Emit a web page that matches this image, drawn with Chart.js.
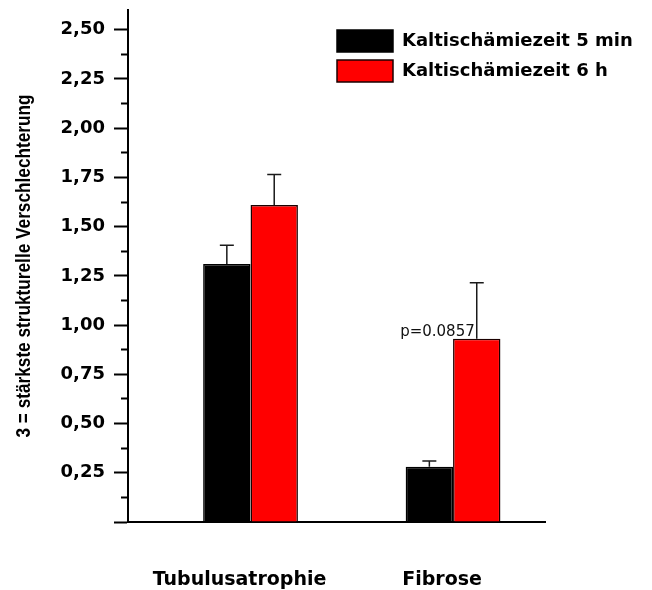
<!DOCTYPE html>
<html lang="de">
<head>
<meta charset="utf-8">
<title>Kaltischämiezeit – strukturelle Verschlechterung</title>
<script src="https://cdn.jsdelivr.net/npm/chart.js@4/dist/chart.umd.min.js"></script>
<style>
  html, body { margin: 0; padding: 0; background: #ffffff; }
  #wrap { width: 652px; height: 590px; }
</style>
</head>
<body>
<div id="wrap"><canvas id="chart" width="652" height="590"></canvas></div>
<script>
// Befunde je Kategorie (Mittelwert und Fehler nach oben)
const categories = ['Tubulusatrophie', 'Fibrose'];
const seriesNames = ['Kaltischämiezeit 5 min', 'Kaltischämiezeit 6 h'];
const values5min = [1.31, 0.28];
const errors5min = [0.095, 0.03];
const values6h = [1.61, 0.93];
const errors6h = [0.155, 0.285];
const notes6h = ['', 'p=0.0857'];
const yAxisTitle = '3 = stärkste strukturelle Verschlechterung';
const yMax = 2.6;
const yMajorStep = 0.25;
const yMinorStep = 0.125;

const BOLD_FONT = "'DejaVu Sans', 'Liberation Sans', sans-serif";
const TITLE_FONT = "bold 21px 'Liberation Sans', Arial, sans-serif";

const isMajor = v => Math.abs(v / yMajorStep - Math.round(v / yMajorStep)) < 1e-6;
const formatTick = v => v.toFixed(2).replace('.', ',');

const toPoints = vals => vals.map((v, i) => ({ x: i, y: v }));

// Fehlerbalken und Hinweistexte über den Balken
const errorBars = {
  id: 'errorBars',
  afterDatasetsDraw(chart) {
    const { ctx } = chart;
    const yScale = chart.scales.y;
    chart.data.datasets.forEach((ds, di) => {
      const meta = chart.getDatasetMeta(di);
      meta.data.forEach((bar, i) => {
        const err = ds.errors ? ds.errors[i] : 0;
        const val = ds.data[i].y;
        const yTop = yScale.getPixelForValue(val + err);
        ctx.save();
        ctx.strokeStyle = '#1a1a1a';
        ctx.lineWidth = 1.5;
        ctx.beginPath();
        ctx.moveTo(bar.x, bar.y);
        ctx.lineTo(bar.x, yTop);
        ctx.moveTo(bar.x - 7, yTop);
        ctx.lineTo(bar.x + 7, yTop);
        ctx.stroke();
        const note = ds.notes ? ds.notes[i] : '';
        if (note) {
          ctx.fillStyle = '#111111';
          ctx.font = "15px " + BOLD_FONT;
          ctx.textAlign = 'right';
          ctx.textBaseline = 'alphabetic';
          ctx.fillText(note, bar.x - 2, bar.y - 3);
        }
        ctx.restore();
      });
    });
  }
};

// Schmale, gedrehte Beschriftung der y-Achse
const narrowYTitle = {
  id: 'narrowYTitle',
  afterDraw(chart) {
    const { ctx } = chart;
    const y = chart.scales.y;
    ctx.save();
    ctx.translate(24, (y.top + y.bottom) / 2);
    ctx.rotate(-Math.PI / 2);
    ctx.scale(0.82, 1);
    ctx.font = TITLE_FONT;
    ctx.fillStyle = '#000000';
    ctx.textAlign = 'center';
    ctx.textBaseline = 'middle';
    ctx.fillText(yAxisTitle, 0, 0);
    ctx.restore();
  }
};

// Legende oben rechts im Diagrammbereich
const legendPlacement = {
  id: 'legendPlacement',
  afterUpdate(chart) {
    const lg = chart.legend;
    if (!lg) return;
    const w = lg.width, h = lg.height;
    lg.left = 329;
    lg.top = 22;
    lg.right = lg.left + w;
    lg.bottom = lg.top + h;
    lg.adjustHitBoxes();
  }
};

Chart.defaults.font.family = BOLD_FONT;
Chart.defaults.color = '#000000';

new Chart(document.getElementById('chart'), {
  type: 'bar',
  data: {
    datasets: [
      {
        label: seriesNames[0],
        data: toPoints(values5min),
        errors: errors5min,
        backgroundColor: '#000000',
        borderColor: '#000000',
        borderWidth: 1.5
      },
      {
        label: seriesNames[1],
        data: toPoints(values6h),
        errors: errors6h,
        notes: notes6h,
        backgroundColor: '#ff0000',
        borderColor: '#1a0000',
        borderWidth: 1.5
      }
    ]
  },
  options: {
    responsive: false,
    animation: false,
    events: [],
    layout: { padding: { top: 10, right: 107, bottom: 0, left: 0 } },
    datasets: { bar: { categoryPercentage: 0.468, barPercentage: 1.0 } },
    plugins: {
      tooltip: { enabled: false },
      legend: {
        position: 'chartArea',
        align: 'start',
        labels: {
          boxWidth: 56,
          boxHeight: 22,
          padding: 8,
          color: '#000000',
          font: { family: BOLD_FONT, size: 18, weight: 'bold' }
        }
      }
    },
    scales: {
      x: {
        type: 'linear',
        offset: false,
        min: -0.605,
        max: 1.454,
        afterBuildTicks: scale => { scale.ticks = categories.map((c, i) => ({ value: i })); },
        afterFit: scale => { scale.height = 68; },
        grid: { display: false, offset: false },
        border: { display: true, color: '#000000', width: 2 },
        ticks: {
          autoSkip: false,
          maxRotation: 0,
          labelOffset: -11,
          padding: 39,
          color: '#000000',
          font: { family: BOLD_FONT, size: 19, weight: 'bold' },
          callback: v => categories[v] ?? ''
        }
      },
      y: {
        min: 0,
        max: yMax,
        afterFit: scale => {
          scale.width = 128;
          scale.paddingTop = 0;
          scale.paddingBottom = 0;
        },
        border: { display: true, color: '#000000', width: 2 },
        grid: {
          drawOnChartArea: false,
          drawTicks: true,
          tickLength: 14,
          tickWidth: 2,
          tickColor: '#000000',
          tickBorderDash: ctx => (ctx.tick && !isMajor(ctx.tick.value)) ? [7, 7] : [],
          tickBorderDashOffset: ctx => (ctx.tick && !isMajor(ctx.tick.value)) ? 7 : 0
        },
        ticks: {
          stepSize: yMinorStep,
          includeBounds: false,
          autoSkip: false,
          padding: 9,
          color: '#000000',
          font: { family: BOLD_FONT, size: 18, weight: 'bold' },
          callback: v => (v > 0 && isMajor(v)) ? formatTick(v) : ''
        },
        title: { display: false }
      }
    }
  },
  plugins: [errorBars, narrowYTitle, legendPlacement]
});
</script>
</body>
</html>
